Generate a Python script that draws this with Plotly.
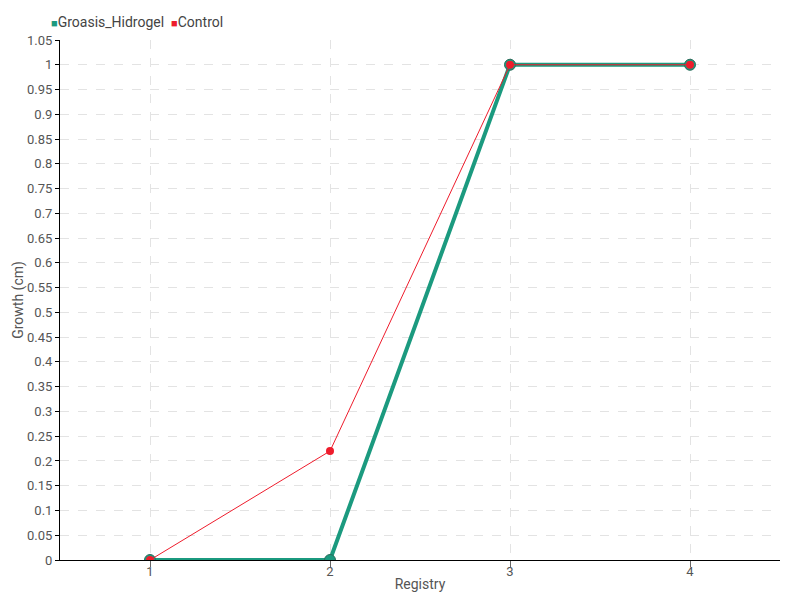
import plotly.graph_objects as go

registry = [1, 2, 3, 4]
groasis_hidrogel = [0, 0, 1, 1]
control = [0, 0.22, 1, 1]
y_ticks = [round(i * 0.05, 2) for i in range(22)]
y_labels = [("%g" % v) for v in y_ticks]

TEAL = "#1b9a7f"
RED = "#ee1c2c"
FONT = "Roboto, sans-serif"

fig = go.Figure()
fig.add_trace(go.Scatter(
    x=registry, y=groasis_hidrogel, name="Groasis_Hidrogel",
    mode="lines+markers",
    line=dict(color=TEAL, width=4),
    marker=dict(size=11, color=TEAL, line=dict(color="#2a6e5c", width=1)),
))
fig.add_trace(go.Scatter(
    x=registry, y=control, name="Control",
    mode="lines+markers",
    line=dict(color=RED, width=1),
    marker=dict(size=8, color=RED),
))

# compact legend like the original (small square + label)
legend_text = "  ".join(
    "<span style='color:%s;font-size:11px'>■</span>%s" % (c, n)
    for n, c in [("Groasis_Hidrogel", TEAL), ("Control", RED)]
)
fig.add_annotation(
    text=legend_text, xref="paper", yref="paper",
    x=-0.015, y=1.0, xanchor="left", yanchor="bottom", yshift=8,
    showarrow=False, font=dict(size=14, color="#444444"),
)

fig.update_layout(
    width=784, height=584,
    margin=dict(l=52, r=12, t=32, b=32, autoexpand=False),
    plot_bgcolor="white", paper_bgcolor="white",
    font=dict(family=FONT, size=13, color="#555555"),
    showlegend=False,
    xaxis=dict(
        range=[0.5, 4.5], tickvals=registry, ticktext=[str(r) for r in registry],
        showgrid=True, gridcolor="#e3e3e3", griddash="dash",
        showline=True, linecolor="black", linewidth=1,
        ticks="outside", ticklen=6, tickcolor="#666666",
        ticklabelstandoff=-7,
        zeroline=False, automargin=False,
        title=dict(text="Registry", standoff=4, font=dict(size=14)),
    ),
    yaxis=dict(
        range=[0, 1.05], tickvals=y_ticks, ticktext=y_labels,
        showgrid=True, gridcolor="#e3e3e3", griddash="dash",
        showline=True, linecolor="black", linewidth=1,
        ticks="outside", ticklen=4, tickcolor="black",
        zeroline=False, automargin=False,
        title=dict(text="Growth (cm)", standoff=0, font=dict(size=14)),
    ),
)
fig.write_html("out.html")
